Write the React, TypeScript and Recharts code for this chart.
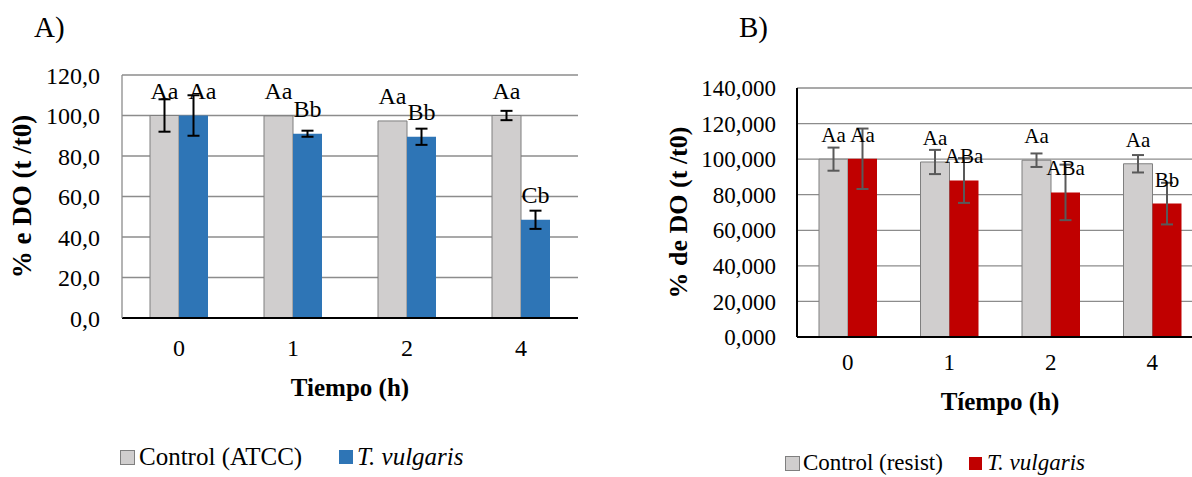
import { BarChart, Bar, XAxis, YAxis, CartesianGrid, ErrorBar, LabelList, Label } from 'recharts';

// tiempos (h)
const times = ['0', '1', '2', '4'];

// A) Control (ATCC) vs T. vulgaris
const ctrlA = [100, 99.8, 97.3, 100];
const ctrlAErr = [8, 0, 0, 2.3];
const ctrlALbl = ['Aa', 'Aa', 'Aa', 'Aa'];
const vulgA = [100, 91, 89.5, 48.5];
const vulgAErr = [10, 1.5, 4, 4.5];
const vulgALbl = ['Aa', 'Bb', 'Bb', 'Cb'];
const ticksA = [0, 20, 40, 60, 80, 100, 120];

// B) Control (resist) vs T. vulgaris
const ctrlB = [100, 98.4, 99.4, 97.4];
const ctrlBErr = [6.5, 6.8, 3.8, 4.9];
const ctrlBLbl = ['Aa', 'Aa', 'Aa', 'Aa'];
const vulgB = [100.2, 88, 81.3, 75];
const vulgBErr = [17, 12.6, 15.6, 11.7];
const vulgBLbl = ['Aa', 'ABa', 'ABa', 'Bb'];
const ticksB = [0, 20, 40, 60, 80, 100, 120, 140];

const FONT = '"Liberation Serif", "Times New Roman", serif';
const GRAY = '#D0CECE';
const GRAY_EDGE = '#7F7F7F';
const BLUE = '#2E75B6';
const RED = '#C00000';
const GRID = '#8C8C8C';

const dataA = times.map((t, i) => ({
    time: t,
    ctrl: ctrlA[i], ctrlErr: ctrlAErr[i], ctrlLbl: ctrlALbl[i],
    vulg: vulgA[i], vulgErr: vulgAErr[i], vulgLbl: vulgALbl[i],
}));

const dataB = times.map((t, i) => ({
    time: t,
    ctrl: ctrlB[i], ctrlErr: ctrlBErr[i], ctrlLbl: ctrlBLbl[i],
    vulg: vulgB[i], vulgErr: vulgBErr[i], vulgLbl: vulgBLbl[i],
}));

// titulo vertical del eje Y, centrado en el area del grafico
const YTitle = ({ viewBox, text, cx, size }: any) => {
    const cy = viewBox.y + viewBox.height / 2;
    return (
        <text
            x={cx}
            y={cy}
            transform={`rotate(-90 ${cx} ${cy})`}
            textAnchor="middle"
            dominantBaseline="central"
            fontFamily={FONT}
            fontWeight="bold"
            fontSize={size}
            fill="#000"
        >
            {text}
        </text>
    );
};

// etiqueta sobre la barra; el primer rotulo azul va corrido a la derecha (como en Excel)
const ShiftedLabel = (props: any) => {
    const vb = props.viewBox || props;
    const shift = props.index === 0 ? 9 : 0;
    return (
        <text x={vb.x + vb.width / 2 + shift} y={vb.y - 17} textAnchor="middle" fontFamily={FONT} fontSize={24} fill="#000">
            {props.value}
        </text>
    );
};

const abs = (left: number, top: number, extra: any = {}) => ({
    position: 'absolute' as const, left, top, ...extra,
});

const swatch = (color: string, size: number, border?: string) => ({
    width: size, height: size, background: color,
    border: border ? `1px solid ${border}` : 'none', boxSizing: 'border-box' as const,
});

export default function App() {
    return (
        <div style={{ position: 'absolute', left: 0, top: 0, width: 1192, height: 477, overflow: 'hidden', background: '#fff', fontFamily: FONT, color: '#000' }}>
            {/* Panel A */}
            <div style={abs(34, 9, { fontSize: 29, lineHeight: '36px' })}>A)</div>
            <div style={abs(0, 0)}>
                <BarChart width={600} height={477} data={dataA} margin={{ top: 75, right: 22, bottom: 129, left: 0 }} barGap={0} barSize={29}>
                    <CartesianGrid vertical={false} stroke={GRID} strokeWidth={1.3} />
                    <XAxis
                        dataKey="time"
                        height={30}
                        tickLine={false}
                        axisLine={{ stroke: '#000', strokeWidth: 2 }}
                        tick={{ fill: '#000', fontSize: 24, fontFamily: FONT }}
                        tickMargin={15}
                    >
                        <Label value="Tiempo (h)" position="bottom" offset={30} style={{ fontFamily: FONT, fontSize: 25, fontWeight: 'bold', fill: '#000' }} />
                    </XAxis>
                    <YAxis
                        width={122}
                        domain={[0, 120]}
                        ticks={ticksA}
                        tickLine={false}
                        axisLine={{ stroke: GRID, strokeWidth: 1.3 }}
                        tickMargin={16}
                        tick={{ fill: '#000', fontSize: 24, fontFamily: FONT }}
                        tickFormatter={(v) => v.toFixed(1).replace('.', ',')}
                    >
                        <Label content={(p: any) => <YTitle {...p} text="% e DO (t /t0)" cx={22} size={27} />} />
                    </YAxis>
                    <Bar dataKey="ctrl" fill={GRAY} stroke={GRAY_EDGE} strokeWidth={1} isAnimationActive={false}>
                        <ErrorBar dataKey="ctrlErr" direction="y" width={6} stroke="#000" strokeWidth={2} />
                        <LabelList dataKey="ctrlLbl" position="top" offset={17} style={{ fontFamily: FONT, fontSize: 24, fill: '#000' }} />
                    </Bar>
                    <Bar dataKey="vulg" fill={BLUE} isAnimationActive={false}>
                        <ErrorBar dataKey="vulgErr" direction="y" width={6} stroke="#000" strokeWidth={2} />
                        <LabelList dataKey="vulgLbl" content={ShiftedLabel} />
                    </Bar>
                </BarChart>
            </div>
            {/* Leyenda A */}
            <div style={abs(120, 450, swatch(GRAY, 15, GRAY_EDGE))} />
            <div style={abs(139, 442, { fontSize: 25, lineHeight: '30px', whiteSpace: 'nowrap' })}>Control (ATCC)</div>
            <div style={abs(339, 450, swatch(BLUE, 14))} />
            <div style={abs(357, 442, { fontSize: 25, lineHeight: '30px', fontStyle: 'italic', whiteSpace: 'nowrap' })}>T. vulgaris</div>

            {/* Panel B */}
            <div style={abs(739, 9, { fontSize: 29, lineHeight: '36px' })}>B)</div>
            <div style={abs(640, 0)}>
                <BarChart width={563} height={477} data={dataB} margin={{ top: 88, right: 0, bottom: 110, left: 0 }} barGap={0} barSize={29}>
                    <CartesianGrid vertical={false} stroke={GRID} strokeWidth={1.3} />
                    <XAxis
                        dataKey="time"
                        height={30}
                        tickLine={false}
                        axisLine={{ stroke: '#000', strokeWidth: 2 }}
                        tick={{ fill: '#000', fontSize: 23, fontFamily: FONT }}
                        tickMargin={11}
                    >
                        <Label value="Tíempo (h)" position="bottom" offset={25} style={{ fontFamily: FONT, fontSize: 25, fontWeight: 'bold', fill: '#000' }} />
                    </XAxis>
                    <YAxis
                        width={157}
                        domain={[0, 140]}
                        ticks={ticksB}
                        tickLine={false}
                        axisLine={{ stroke: '#000', strokeWidth: 2 }}
                        tickMargin={15}
                        tick={{ fill: '#000', fontSize: 23, fontFamily: FONT }}
                        tickFormatter={(v) => v.toFixed(3).replace('.', ',')}
                    >
                        <Label content={(p: any) => <YTitle {...p} text="% de DO (t /t0)" cx={38} size={26} />} />
                    </YAxis>
                    <Bar dataKey="ctrl" fill={GRAY} stroke={GRAY_EDGE} strokeWidth={1} isAnimationActive={false}>
                        <ErrorBar dataKey="ctrlErr" direction="y" width={6} stroke="#595959" strokeWidth={2} />
                        <LabelList dataKey="ctrlLbl" position="top" offset={17} style={{ fontFamily: FONT, fontSize: 21, fill: '#000' }} />
                    </Bar>
                    <Bar dataKey="vulg" fill={RED} isAnimationActive={false}>
                        <ErrorBar dataKey="vulgErr" direction="y" width={6} stroke="#595959" strokeWidth={2} />
                        <LabelList dataKey="vulgLbl" position="top" offset={17} style={{ fontFamily: FONT, fontSize: 21, fill: '#000' }} />
                    </Bar>
                </BarChart>
            </div>
            {/* Leyenda B (el original queda cortado abajo; se sube un poco para que se lea entera) */}
            <div style={abs(785, 456, swatch(GRAY, 15, GRAY_EDGE))} />
            <div style={abs(803, 449, { fontSize: 23, lineHeight: '28px', whiteSpace: 'nowrap' })}>Control (resist)</div>
            <div style={abs(969, 457, swatch(RED, 13))} />
            <div style={abs(987, 449, { fontSize: 23, lineHeight: '28px', fontStyle: 'italic', whiteSpace: 'nowrap' })}>T. vulgaris</div>
        </div>
    );
}
